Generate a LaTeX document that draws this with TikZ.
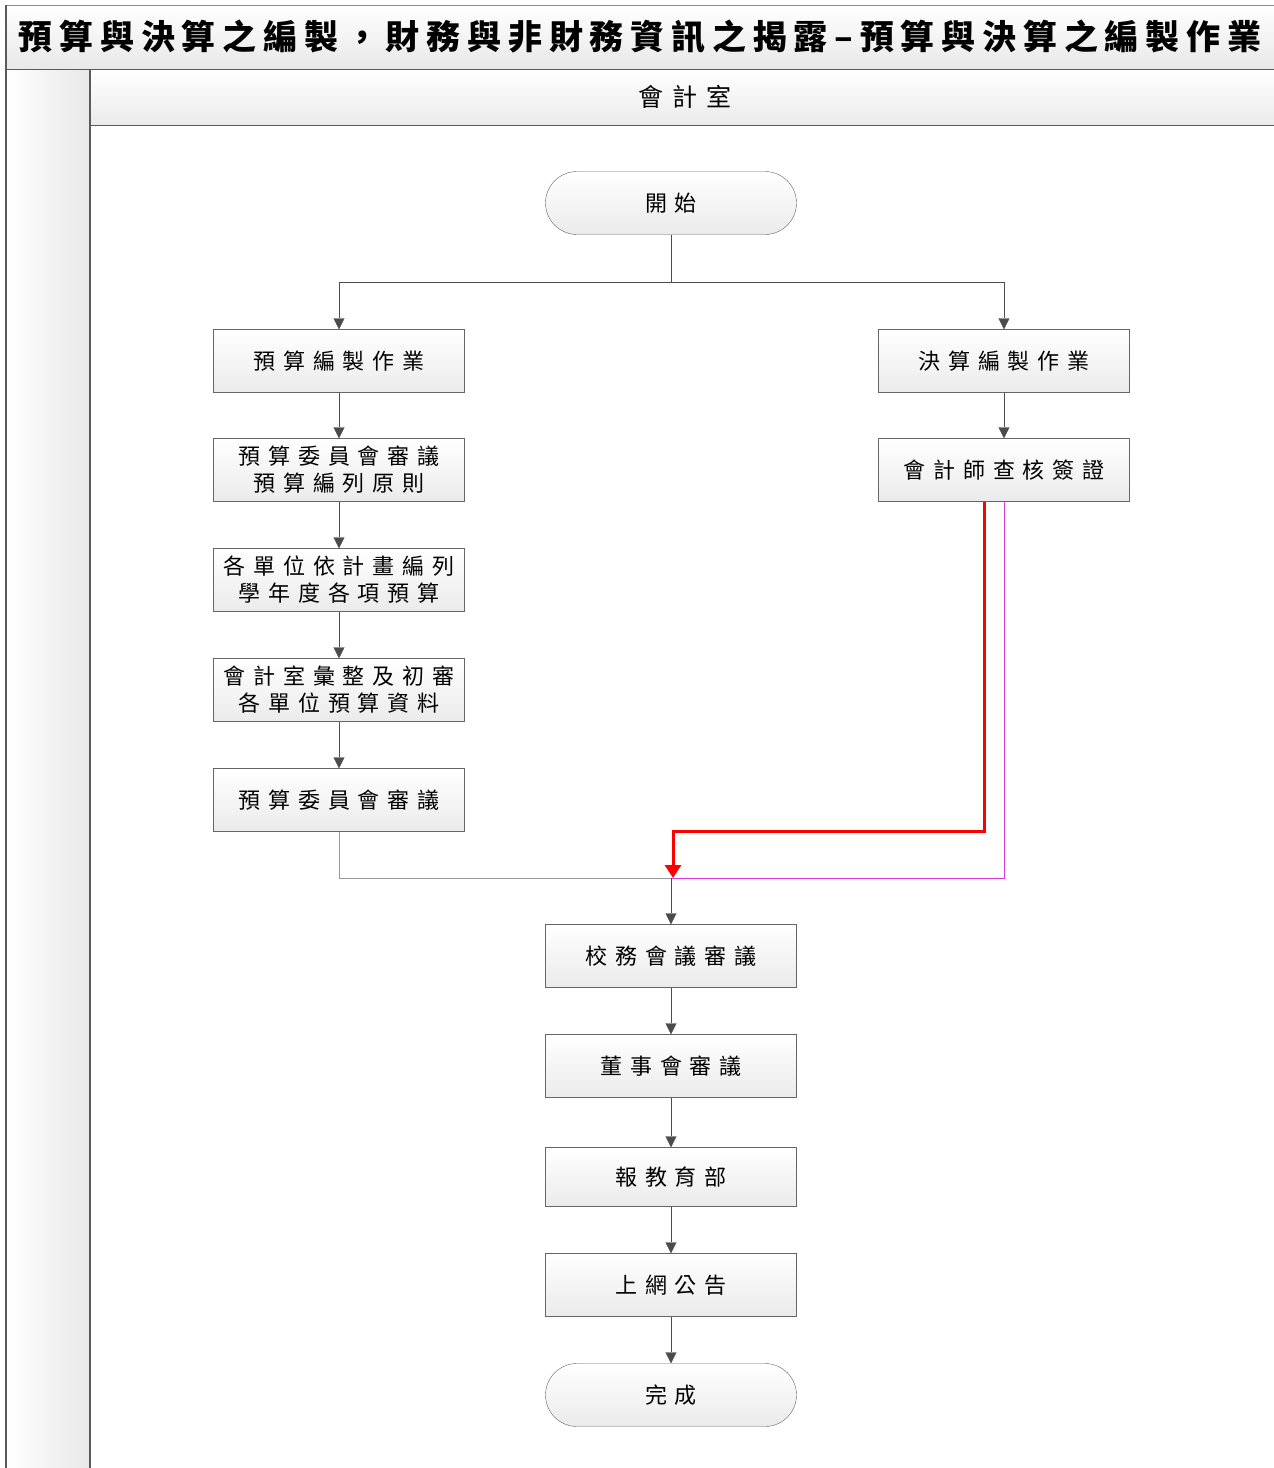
\documentclass[tikz,border=0pt]{standalone}
\usepackage{fontspec}
\newfontfamily\cjk[LetterSpace=36]{Noto Sans CJK TC}
\newfontfamily\cjktitle[LetterSpace=20]{Noto Sans CJK TC}
\usetikzlibrary{arrows.meta,shapes.misc}
\definecolor{laneline}{RGB}{90,90,90}
\definecolor{audit}{RGB}{220,60,220}
\begin{document}
\begin{tikzpicture}[x=1pt,y=-1pt,inner sep=0pt,
        box/.style={draw=black!60,top color=white,bottom color=black!8,minimum width=251pt,
          minimum height=63pt,align=center,font=\cjk\fontsize{22}{27}\selectfont},
        term/.style={box,rounded rectangle},
        flow/.style={draw=black!70,-{Triangle[length=11pt,width=11pt]}}]
        \useasboundingbox (0,0) rectangle (1274,1468);
        % lane frame
        \shade[top color=white,bottom color=black!9] (6,5) rectangle (1274,69);
        \shade[left color=white,right color=black!9] (6,69) rectangle (90,1468);
        \shade[top color=white,bottom color=black!8] (90,69) rectangle (1274,125);
        \draw[black!45,line width=1pt] (6,5) -- (1274,5);
        \draw[laneline,line width=1pt] (6,69) -- (1274,69) (90,125) -- (1274,125);
        \draw[laneline,line width=2pt] (6,5) -- (6,1468) (90,69) -- (90,1468);
        \node (title) at (640,37) {\cjktitle\bfseries\fontsize{34}{36}\selectfont 預算與決算之編製，財務與非財務資訊之揭露–預算與決算之編製作業};
        \node (lane) at (685,97) {\cjk\fontsize{25}{26}\selectfont 會計室};
        % nodes
        \node[term] (start) at (671,203) {開始};
        \node[box] (b1) at (339,361) {預算編製作業};
        \node[box] (b2) at (339,470) {預算委員會審議\\預算編列原則};
        \node[box] (b3) at (339,580) {各單位依計畫編列\\學年度各項預算};
        \node[box] (b4) at (339,690) {會計室彙整及初審\\各單位預算資料};
        \node[box] (b5) at (339,800) {預算委員會審議};
        \node[box] (r1) at (1004,361) {決算編製作業};
        \node[box] (r2) at (1004,470) {會計師查核簽證};
        \node[box] (c1) at (671,956) {校務會議審議};
        \node[box] (c2) at (671,1066) {董事會審議};
        \node[box,minimum height=59pt] (c3) at (671,1177) {報教育部};
        \node[box] (c4) at (671,1285) {上網公告};
        \node[term] (end) at (671,1395) {完成};
        \coordinate (split) at (671,282);
        \coordinate (join) at (671,878);
        \coordinate (redturn) at (673,831);
        % connectors
        \draw[black!70] (start) -- (split);
        \draw[flow] (split) -| (b1);
        \draw[flow] (split) -| (r1);
        \draw[flow] (b1) -- (b2);
        \draw[flow] (b2) -- (b3);
        \draw[flow] (b3) -- (b4);
        \draw[flow] (b4) -- (b5);
        \draw[flow] (r1) -- (r2);
        \draw[black!40] (b5) |- (join);
        \draw[audit] (r2) |- (join);
        \draw[red,line width=3pt,-{Triangle[length=13pt,width=16pt]}] ([xshift=-20pt]r2.south) |- (redturn) -- ([xshift=2pt]join);
        \draw[flow] (join) -- (c1);
        \draw[flow] (c1) -- (c2);
        \draw[flow] (c2) -- (c3);
        \draw[flow] (c3) -- (c4);
        \draw[flow] (c4) -- (end);
\end{tikzpicture}
\end{document}
